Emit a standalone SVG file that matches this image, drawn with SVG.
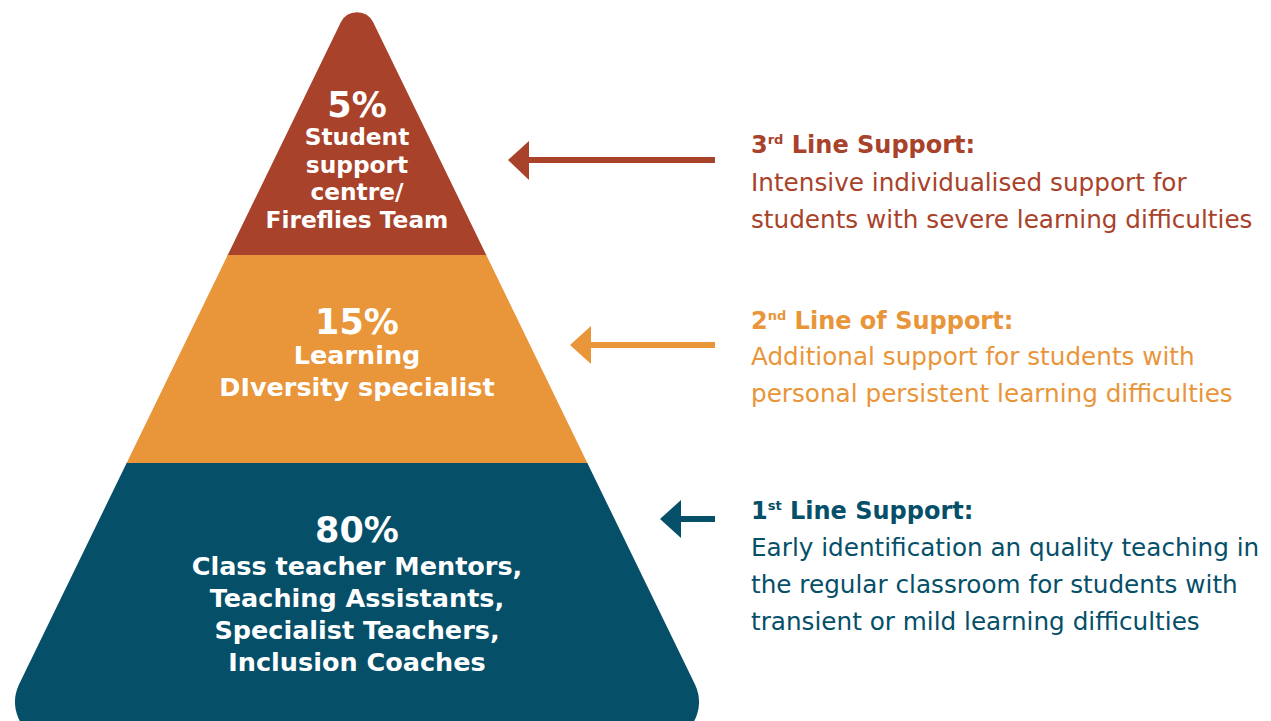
<svg xmlns="http://www.w3.org/2000/svg" width="1271" height="721" viewBox="0 0 1271 721">
<style>
.pt{font-family:"DejaVu Sans","Liberation Sans",sans-serif;font-weight:bold;fill:#ffffff;text-anchor:middle}
.pct{font-size:35px}
.lbl{font-size:23.3px}
.lbl2{font-size:25.5px}
.hd{font-family:"DejaVu Sans","Liberation Sans",sans-serif;font-weight:bold;font-size:24px}
.bd{font-family:"DejaVu Sans","Liberation Sans",sans-serif;font-size:24.7px}
.sup{font-size:13px}
.red{fill:#A9422A}
.org{fill:#E9953A}
.teal{fill:#064F69}
</style>
<defs>
<clipPath id="pyr">
<path d="M340.81 22.31 A18 18 0 0 1 373.19 22.31 L695.01 684.52 A40 40 0 0 1 659.03 742 L54.97 742 A40 40 0 0 1 18.99 684.52 Z"/>
</clipPath>
</defs>
<g id="tier3">
<rect x="0" y="0" width="720" height="255.5" class="red" clip-path="url(#pyr)"/>
<text class="pt pct" x="357" y="117">5%</text>
<text class="pt lbl" x="357" y="145">Student</text>
<text class="pt lbl" x="357" y="173">support</text>
<text class="pt lbl" x="357" y="200">centre/</text>
<text class="pt lbl" x="357" y="228">Fireflies Team</text>
</g>
<g id="tier2">
<rect x="0" y="255" width="720" height="208.5" class="org" clip-path="url(#pyr)"/>
<text class="pt pct" x="357" y="334">15%</text>
<text class="pt lbl2" x="357" y="364">Learning</text>
<text class="pt lbl2" x="357" y="396">DIversity specialist</text>
</g>
<g id="tier1">
<rect x="0" y="463" width="720" height="258" class="teal" clip-path="url(#pyr)"/>
<text class="pt pct" x="357" y="542">80%</text>
<text class="pt lbl2" x="357" y="575">Class teacher Mentors,</text>
<text class="pt lbl2" x="357" y="607">Teaching Assistants,</text>
<text class="pt lbl2" x="357" y="639">Specialist Teachers,</text>
<text class="pt lbl2" x="357" y="671">Inclusion Coaches</text>
</g>
<g id="connectors">
<rect x="527" y="157" width="188" height="6" class="red"/>
<polygon points="508,160 529,141 529,180" class="red"/>
<rect x="589" y="342" width="126" height="6" class="org"/>
<polygon points="570,345 591,326 591,364" class="org"/>
<rect x="679" y="516" width="36" height="6" class="teal"/>
<polygon points="660,519 681,500 681,538" class="teal"/>
</g>
<g id="desc3">
<text class="hd red" x="751" y="153">3<tspan class="sup" dy="-9">rd</tspan><tspan dy="9"> Line Support:</tspan></text>
<text class="bd red" x="751" y="191">Intensive individualised support for</text>
<text class="bd red" x="751" y="228">students with severe learning difficulties</text>
</g>
<g id="desc2">
<text class="hd org" x="751" y="329">2<tspan class="sup" dy="-9">nd</tspan><tspan dy="9"> Line of Support:</tspan></text>
<text class="bd org" x="751" y="365">Additional support for students with</text>
<text class="bd org" x="751" y="402">personal persistent learning difficulties</text>
</g>
<g id="desc1">
<text class="hd teal" x="751" y="519">1<tspan class="sup" dy="-9">st</tspan><tspan dy="9"> Line Support:</tspan></text>
<text class="bd teal" x="751" y="556">Early identification an quality teaching in</text>
<text class="bd teal" x="751" y="593">the regular classroom for students with</text>
<text class="bd teal" x="751" y="630">transient or mild learning difficulties</text>
</g>
</svg>
